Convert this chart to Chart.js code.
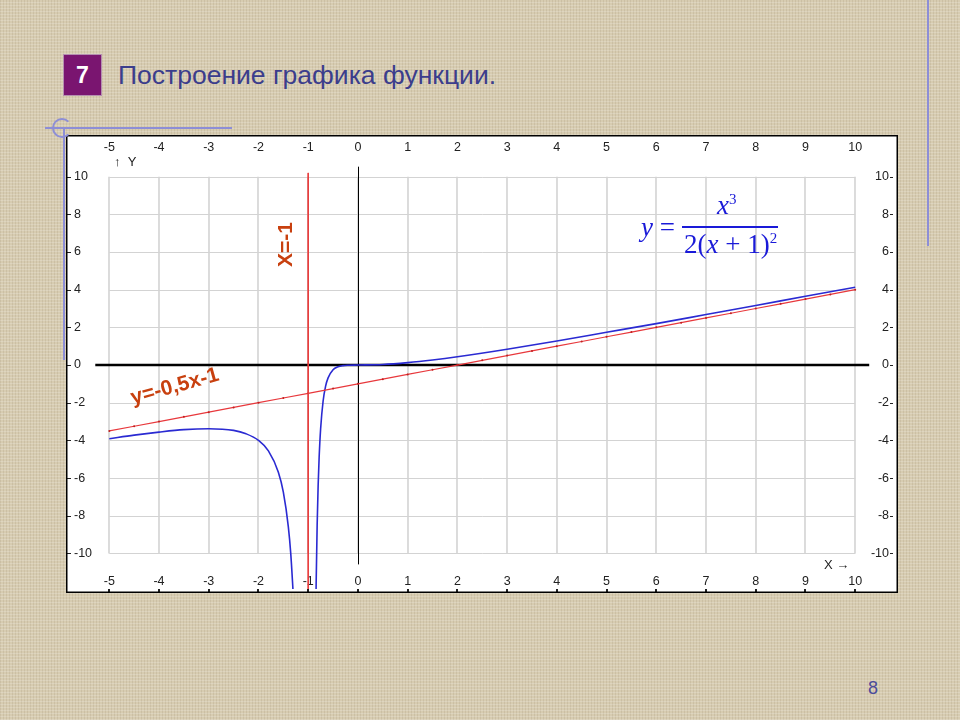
<!DOCTYPE html>
<html>
<head>
<meta charset="utf-8">
<script src="https://cdn.jsdelivr.net/npm/chart.js@4/dist/chart.umd.min.js"></script>
<style>
  body { margin: 0; width: 960px; height: 720px; overflow: hidden; position: relative;
    background-color: #d7ccb1;
    background-image:
      repeating-linear-gradient(0deg, rgba(255,255,255,0.18) 0 1px, transparent 1px 3px),
      repeating-linear-gradient(90deg, rgba(120,100,70,0.12) 0 1px, transparent 1px 3px);
    font-family: "Liberation Sans", Arial, sans-serif; }
  .abs { position: absolute; }
  #num { left: 64px; top: 55px; width: 37px; height: 40px; background: #7a1570; color: #fff;
    font: bold 23px "Liberation Sans", Arial, sans-serif; text-align: center; line-height: 40px;
    box-shadow: 0 0 0 1px #b58fb0; }
  #title { left: 118px; top: 60px; font-size: 26.5px; color: #3b3d8c; white-space: nowrap; }
  #page { left: 868px; top: 678px; font-size: 18px; color: #4b4b9b; }
  #chartBox { left: 66px; top: 135px; }
  .deco { background: #8d8ed6; }
  .formula { font-family: "Liberation Serif", "Times New Roman", serif; color: #1a1ad8; font-style: italic; white-space: nowrap; }
</style>
</head>
<body>
<div class="abs" id="num">7</div>
<div class="abs" id="title">Построение графика функции.</div>
<div class="abs" id="chartBox"><canvas id="chart" width="832" height="458"></canvas></div>

<!-- decorative lines -->
<div class="abs deco" style="left:45px; top:127px; width:187px; height:2px;"></div>
<div class="abs deco" style="left:63px; top:128px; width:2px; height:232px;"></div>
<div class="abs" style="left:52px; top:118px; width:20px; height:20px; border:2px solid #8d8ed6; border-radius:50%; border-right-color:transparent; box-sizing:border-box;"></div>
<div class="abs deco" style="left:927px; top:0px; width:2px; height:246px;"></div>

<!-- formula -->
<div class="abs formula" style="left:641px; top:212px; font-size:27px;">y <span style="font-style:normal">=</span></div>
<div class="abs formula" style="left:717px; top:190px; font-size:27px;">x<sup style="font-size:15px; font-style:normal;">3</sup></div>
<div class="abs" style="left:682px; top:226px; width:96px; height:2px; background:#1a1ad8;"></div>
<div class="abs formula" style="left:684px; top:229px; font-size:27px;"><span style="font-style:normal">2(</span>x<span style="font-style:normal"> + 1)</span><sup style="font-size:15px; font-style:normal;">2</sup></div>

<div class="abs" id="page">8</div>

<script>
// Axis ticks
const xTicks = [-5, -4, -3, -2, -1, 0, 1, 2, 3, 4, 5, 6, 7, 8, 9, 10];
const yTicks = [-10, -8, -6, -4, -2, 0, 2, 4, 6, 8, 10];

// Curve y = x^3 / (2(x+1)^2), left branch
const leftX = [-5, -4.5, -4, -3.5, -3, -2.5, -2.25, -2, -1.8, -1.6, -1.5, -1.4, -1.35, -1.3];
const leftY = [-3.91, -3.72, -3.56, -3.43, -3.38, -3.47, -3.65, -4.0, -4.56, -5.69, -6.75, -8.58, -10.04, -12.2];

// right branch
const rightX = [-0.85, -0.84, -0.82, -0.8, -0.78, -0.75, -0.7, -0.65, -0.6, -0.5, -0.4, -0.3, -0.2, 0, 0.5, 1, 1.5, 2, 3, 4, 5, 6, 7, 8, 9, 10];
const rightY = [-13.6, -11.58, -8.51, -6.4, -4.9, -3.38, -1.91, -1.12, -0.68, -0.25, -0.09, -0.03, -0.01, 0, 0.03, 0.13, 0.27, 0.44, 0.84, 1.28, 1.74, 2.2, 2.68, 3.16, 3.65, 4.13];

// oblique asymptote
const asymX = [-5, -4.5, -4, -3.5, -3, -2.5, -2, -1.5, -1, -0.5, 0, 0.5, 1, 1.5, 2, 2.5, 3, 3.5, 4, 4.5, 5, 5.5, 6, 6.5, 7, 7.5, 8, 8.5, 9, 9.5, 10];
const asymY = [-3.5, -3.25, -3, -2.75, -2.5, -2.25, -2, -1.75, -1.5, -1.25, -1, -0.75, -0.5, -0.25, 0, 0.25, 0.5, 0.75, 1, 1.25, 1.5, 1.75, 2, 2.25, 2.5, 2.75, 3, 3.25, 3.5, 3.75, 4];

// vertical asymptote
const vertX = [-1, -1];
const vertY = [10.2, -12];

const pts = (xs, ys) => xs.map((x, i) => ({ x, y: ys[i] }));

const tickFont = '12.5px "Liberation Sans", Arial, sans-serif';

// background, grid, axes, tick labels
const gridPlugin = {
  id: 'grid',
  beforeDatasetsDraw(chart) {
    const { ctx, scales: { x, y }, width, height } = chart;
    ctx.save();
    ctx.fillStyle = '#fff';
    ctx.fillRect(0, 0, width, height);

    const top = y.getPixelForValue(10), bot = y.getPixelForValue(-10);
    const left = x.getPixelForValue(-5), right = x.getPixelForValue(10);
    ctx.strokeStyle = '#d3d3d3';
    ctx.lineWidth = 1.6;
    xTicks.forEach(v => {
      const px = Math.round(x.getPixelForValue(v));
      ctx.beginPath(); ctx.moveTo(px, top); ctx.lineTo(px, bot); ctx.stroke();
    });
    ctx.lineWidth = 1;
    yTicks.forEach(v => {
      const py = Math.round(y.getPixelForValue(v)) + 0.5;
      ctx.beginPath(); ctx.moveTo(left, py); ctx.lineTo(right, py); ctx.stroke();
    });

    // axes
    const y0 = y.getPixelForValue(0), x0 = Math.round(x.getPixelForValue(0)) + 0.5;
    ctx.strokeStyle = '#000';
    ctx.lineWidth = 2.5;
    ctx.beginPath(); ctx.moveTo(left - 14, y0); ctx.lineTo(right + 14, y0); ctx.stroke();
    ctx.lineWidth = 1;
    ctx.beginPath(); ctx.moveTo(x0, top - 10); ctx.lineTo(x0, bot + 11); ctx.stroke();

    // tick labels
    ctx.fillStyle = '#222';
    ctx.font = tickFont;
    ctx.textAlign = 'center';
    ctx.textBaseline = 'middle';
    xTicks.forEach(v => {
      const px = x.getPixelForValue(v);
      ctx.fillText(String(v), px, 13);
      ctx.fillText(String(v), px, height - 11);
      ctx.fillRect(Math.round(px) - 1, height - 4, 2, 4);
    });
    yTicks.forEach(v => {
      const py = y.getPixelForValue(v);
      ctx.textAlign = 'left';
      ctx.fillText(String(v), 8, py);
      ctx.fillRect(1, Math.round(py), 4, 1);
      ctx.textAlign = 'right';
      ctx.fillText(String(v), width - 9, py);
      ctx.fillRect(width - 8, Math.round(py), 3, 1);
    });

    // axis names
    ctx.textAlign = 'left';
    ctx.font = '13px "Liberation Sans", Arial, sans-serif';
    ctx.fillText('\u2191  Y', 48, 27);
    ctx.fillText('X \u2192', 758, 430);
    ctx.restore();
  },
  afterDraw(chart) {
    const { ctx, scales: { x, y }, width, height } = chart;
    ctx.save();
    ctx.strokeStyle = '#000';
    ctx.lineWidth = 1.5;
    ctx.strokeRect(0.75, 0.75, width - 1.5, height - 1.5);

    // labels on the asymptotes
    ctx.fillStyle = '#c8400f';
    ctx.font = 'bold 21px "Liberation Sans", Arial, sans-serif';
    ctx.textAlign = 'center';
    ctx.textBaseline = 'middle';
    ctx.save();
    ctx.translate(x.getPixelForValue(-1.45), y.getPixelForValue(6.4));
    ctx.rotate(-Math.PI / 2);
    ctx.fillText('X=-1', 0, 0);
    ctx.restore();
    ctx.save();
    ctx.translate(x.getPixelForValue(-3.68), y.getPixelForValue(-1.15));
    ctx.rotate(-0.27);
    ctx.fillText('y=-0,5x-1', 0, 0);
    ctx.restore();
    ctx.restore();
  }
};

new Chart(document.getElementById('chart'), {
  type: 'scatter',
  data: {
    datasets: [
      { data: pts(vertX, vertY), showLine: true, borderColor: '#e83a3a', borderWidth: 1, pointRadius: 0 },
      { data: pts(asymX, asymY), showLine: true, borderColor: '#e8383c', borderWidth: 1.2,
        pointRadius: 1, pointBackgroundColor: '#c02020', pointBorderWidth: 0 },
      { data: pts(leftX, leftY), showLine: true, borderColor: '#2a2ad2', borderWidth: 1.6,
        pointRadius: 0, cubicInterpolationMode: 'monotone' },
      { data: pts(rightX, rightY), showLine: true, borderColor: '#2a2ad2', borderWidth: 1.6,
        pointRadius: 0, cubicInterpolationMode: 'monotone' }
    ]
  },
  options: {
    responsive: false,
    animation: false,
    devicePixelRatio: 1,
    layout: { padding: 0 },
    plugins: { legend: { display: false }, tooltip: { enabled: false } },
    scales: {
      x: { type: 'linear', display: false, min: -5.79, max: 10.78 },
      y: { type: 'linear', display: false, min: -11.89, max: 12.0 }
    }
  },
  plugins: [gridPlugin]
});
</script>
</body>
</html>
